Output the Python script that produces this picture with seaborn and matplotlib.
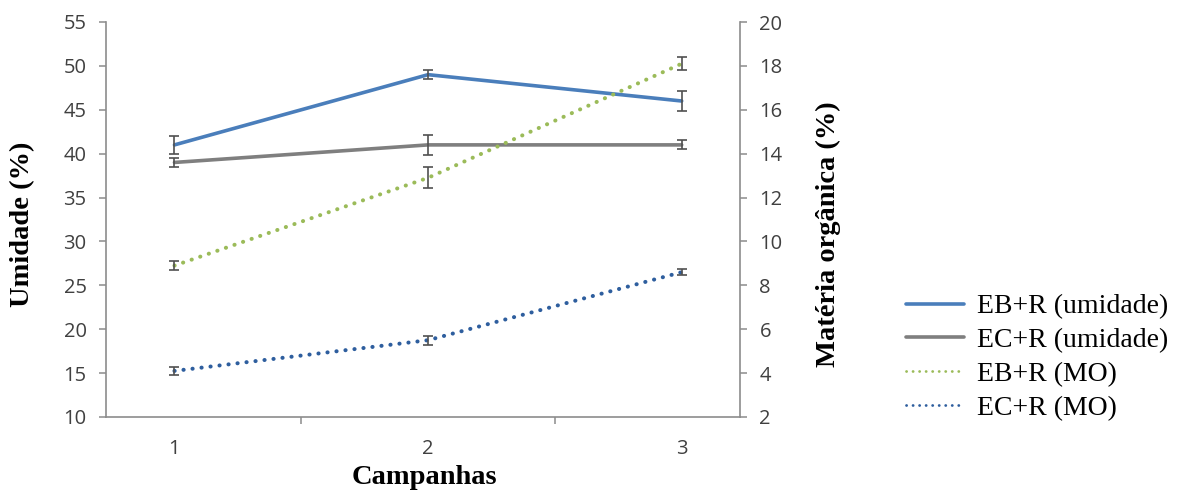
import matplotlib
matplotlib.use("Agg")
import matplotlib.pyplot as plt
import seaborn as sns
import pandas as pd
import numpy as np

campanhas = [1, 2, 3]
eb_umidade = [41.0, 49.0, 46.0]
eb_umidade_err = [1.0, 0.5, 1.1]
ec_umidade = [39.0, 41.0, 41.0]
ec_umidade_err = [0.5, 1.1, 0.5]
eb_mo = [8.9, 12.9, 18.1]
eb_mo_err = [0.2, 0.47, 0.3]
ec_mo = [4.1, 5.5, 8.6]
ec_mo_err = [0.2, 0.2, 0.15]
labels = ["EB+R (umidade)", "EC+R (umidade)", "EB+R (MO)", "EC+R (MO)"]
colors = ["#4A7EBB", "#7F7F7F", "#9BBB59", "#2E5E9E"]

sns.set_theme(style="white")
plt.rcParams['font.family'] = ['Open Sans', 'DejaVu Sans']

fig = plt.figure(figsize=(11.86, 4.93), dpi=100)
ax = fig.add_axes([106/1186, 1-417/493, 634/1186, 395/493])
ax2 = ax.twinx()

df_u = pd.DataFrame({"x": campanhas * 2,
                     "y": eb_umidade + ec_umidade,
                     "s": [labels[0]] * 3 + [labels[1]] * 3})
df_m = pd.DataFrame({"x": campanhas * 2,
                     "y": eb_mo + ec_mo,
                     "s": [labels[2]] * 3 + [labels[3]] * 3})

sns.lineplot(data=df_u, x="x", y="y", hue="s", palette=colors[:2], ax=ax,
             linewidth=2.6, legend=False)
sns.lineplot(data=df_m, x="x", y="y", hue="s", palette=colors[2:], ax=ax2,
             linewidth=2.9, legend=False)
for ln in ax2.get_lines():
    ln.set_dashes([0.05, 2.2])
    ln.set_dash_capstyle('round')

ecol = "#505050"
kw = dict(fmt='none', ecolor=ecol, elinewidth=1.2, capsize=3.5, capthick=1.2)
ax.errorbar(campanhas, eb_umidade, yerr=eb_umidade_err, **kw)
ax.errorbar(campanhas, ec_umidade, yerr=ec_umidade_err, **kw)
ax2.errorbar(campanhas, eb_mo, yerr=eb_mo_err, **kw)
ax2.errorbar(campanhas, ec_mo, yerr=ec_mo_err, **kw)

ax.set_xlim(0.73, 3.23)
ax.set_ylim(10, 55)
ax2.set_ylim(2, 20)
ax.set_yticks(np.arange(10, 56, 5))
ax2.set_yticks(np.arange(2, 21, 2))
ax.set_xticks(campanhas)
ax.set_xticks([1.5, 2.5], minor=True)

spc = "#8C8C8C"
for a in (ax, ax2):
    for s in a.spines.values():
        s.set_visible(False)
    a.grid(False)
ax.spines['left'].set_visible(True)
ax.spines['bottom'].set_visible(True)
ax2.spines['right'].set_visible(True)
for s in (ax.spines['left'], ax.spines['bottom'], ax2.spines['right']):
    s.set_color(spc)
    s.set_linewidth(1.2)

tc = "#404040"
ax.tick_params(axis='y', which='major', direction='out', length=5, width=1.1, color=spc,
               pad=9, labelsize=14.5, labelcolor=tc, left=True)
ax2.tick_params(axis='y', which='major', direction='out', length=5, width=1.1, color=spc,
                pad=9, labelsize=14.5, labelcolor=tc, right=True)
ax.tick_params(axis='x', which='major', length=0, pad=16, labelsize=14.5, labelcolor=tc)
ax.tick_params(axis='x', which='minor', direction='out', length=5, width=1.1, color=spc, bottom=True)

serif = ['Liberation Serif', 'DejaVu Serif']
ax.set_xlabel("Campanhas", fontsize=20.5, fontweight='bold', family=serif, color='black')
ax.set_ylabel("Umidade (%)", fontsize=20.5, fontweight='bold', family=serif, color='black')
ax2.set_ylabel("Matéria orgânica (%)", fontsize=20.5, fontweight='bold', family=serif, color='black')
ax.xaxis.set_label_coords(0.503, -0.154)
ax.yaxis.set_label_coords(-0.131, 0.489)
ax2.yaxis.set_label_coords(1.139, 0.463)
ax.xaxis.label.set_va('center')
ax.yaxis.label.set_va('center')
ax2.yaxis.label.set_va('center')

handles = ax.get_lines()[:2] + ax2.get_lines()[:2]
leg = fig.legend(handles, labels, loc='upper left', bbox_to_anchor=(906/1186, 1-294/493),
                 frameon=False, prop={'family': serif, 'size': 20}, handlelength=2.1,
                 handletextpad=0.45, labelspacing=0.3, borderpad=0, borderaxespad=0)
for t in leg.get_texts():
    t.set_color('black')
for lh in leg.get_lines()[2:]:
    lh.set_linewidth(2.0)
    lh.set_dashes([0.05, 2.3])

fig.savefig("out.png", dpi=100)
